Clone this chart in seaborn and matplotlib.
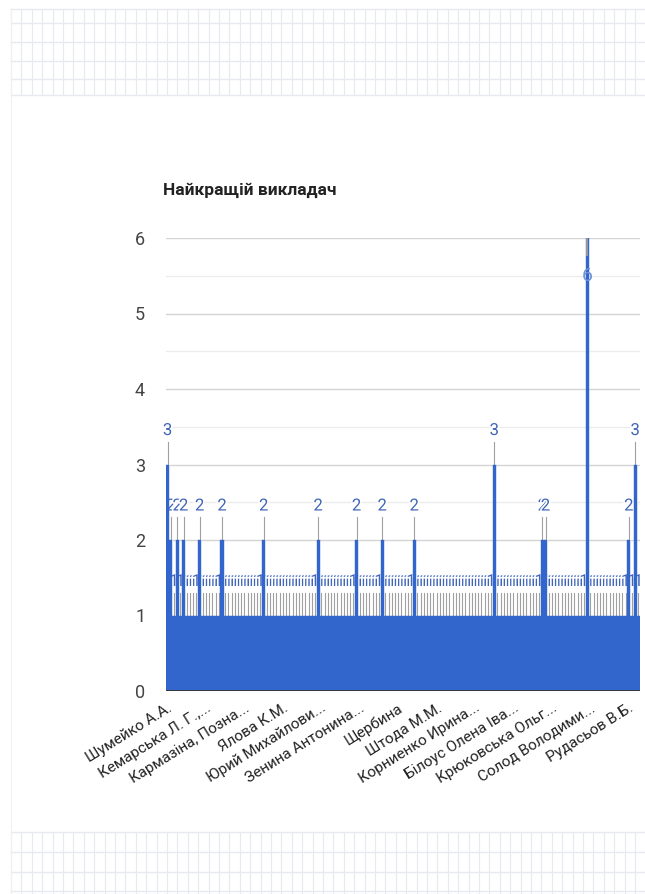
import numpy as np
import pandas as pd
import matplotlib
matplotlib.use("Agg")
import matplotlib.pyplot as plt
import matplotlib.patheffects as pe
from matplotlib.ticker import MultipleLocator
import seaborn as sns

# ---------------- data ----------------
title = "Найкращій викладач"
values = [
    3, 2, 1, 2, 1, 2, 1, 1, 1, 1, 2, 1,
    1, 1, 1, 1, 1, 2, 1, 1, 1, 1, 1, 1,
    1, 1, 1, 1, 1, 1, 2, 1, 1, 1, 1, 1,
    1, 1, 1, 1, 1, 1, 1, 1, 1, 1, 1, 2,
    1, 1, 1, 1, 1, 1, 1, 1, 1, 1, 1, 2,
    1, 1, 1, 1, 1, 1, 1, 2, 1, 1, 1, 1,
    1, 1, 1, 1, 1, 2, 1, 1, 1, 1, 1, 1,
    1, 1, 1, 1, 1, 1, 1, 1, 1, 1, 1, 1,
    1, 1, 1, 1, 1, 1, 3, 1, 1, 1, 1, 1,
    1, 1, 1, 1, 1, 1, 1, 1, 1, 2, 2, 1,
    1, 1, 1, 1, 1, 1, 1, 1, 1, 1, 1, 6,
    1, 1, 1, 1, 1, 1, 1, 1, 1, 1, 1, 1,
    2, 1, 3, 1,
]
categories = list(range(len(values)))
tick_labels = [
    "Шумейко А.А.", "Кемарська Л. Г.,...", "Кармазіна, Позна...",
    "Ялова К.М.", "Юрий Михайлови...", "Зенина Антонина...",
    "Щербина", "Штода М.М.", "Корниенко Ирина...",
    "Білоус Олена Іва...", "Крюковська Ольг...", "Солод Володими...",
    "Рудасьов В.Б.",
]
label_every = 12
y_max = 6

df = pd.DataFrame({"cat": categories, "value": values})

# ---------------- style ----------------
FONT = ["Roboto", "DejaVu Sans"]
plt.rcParams["font.family"] = FONT
BLUE = "#3366cc"

W, H = 645, 894
fig = plt.figure(figsize=(W / 100, H / 100), dpi=100)
fig.patch.set_facecolor("white")

# graph-paper background bands
bg = fig.add_axes([0, 0, 1, 1], zorder=-10)
bg.set_xlim(0, W)
bg.set_ylim(H, 0)
bg.axis("off")
gc = "#e6e9f0"
for xv in np.arange(11, W, 10.4):
    bg.plot([xv, xv], [9, 95], color=gc, lw=0.8)
    bg.plot([xv, xv], [832, H], color=gc, lw=0.8)
for yv in [9, 23, 42, 61, 79, 95]:
    bg.plot([11, W], [yv, yv], color=gc, lw=1.0)
for yv in [832, 852, 872, 891]:
    bg.plot([11, W], [yv, yv], color=gc, lw=1.0)
bg.plot([11, 11], [9, H], color="#eef0f4", lw=0.8)

# main axes
left, right, bottom_px, top_px = 166, 640, 691, 238
ax = fig.add_axes([left / W, 1 - bottom_px / H, (right - left) / W,
                   (bottom_px - top_px) / H])

sns.barplot(data=df, x="cat", y="value", color=BLUE, saturation=1,
            width=1.0, ax=ax, edgecolor=BLUE, linewidth=0.3)

ax.set_xlim(-0.5, len(values) - 0.5)
ax.set_ylim(0, y_max)
ax.set_xlabel("")
ax.set_ylabel("")
for s in ax.spines.values():
    s.set_visible(False)

ax.yaxis.set_major_locator(MultipleLocator(1))
ax.yaxis.set_minor_locator(MultipleLocator(0.5))
ax.set_axisbelow(True)
ax.yaxis.grid(True, which="major", color="#d4d4d4", lw=1.0)
ax.yaxis.grid(True, which="minor", color="#ececec", lw=1.0)
ax.xaxis.grid(False)
ax.tick_params(axis="y", which="both", length=0, labelsize=13,
               labelcolor="#444444", pad=15)
ax.tick_params(axis="x", length=0, pad=7)

tick_pos = categories[::label_every]
ax.set_xticks(tick_pos)
ax.set_xticklabels(tick_labels, rotation=32, ha="right",
                   rotation_mode="anchor", fontsize=11, color="#222222")

ax.axhline(0, color="#333333", lw=1.3, zorder=6)

# bars above lines
for p in ax.patches:
    p.set_zorder(3)

halo = [pe.withStroke(linewidth=2.4, foreground="white")]
for p in ax.patches:
    xc = p.get_x() + p.get_width() / 2
    h = p.get_height()
    if h + 0.55 <= y_max:
        ax.plot([xc, xc], [h, h + 0.3], color="#a0a0a0", lw=0.8,
                zorder=2, path_effects=[pe.Stroke(linewidth=2.2, foreground="white"), pe.Normal()])
        ax.text(xc, h + 0.45, f"{int(h)}", ha="center", va="center",
                fontsize=12, color="#4066b8", zorder=2.5, path_effects=halo)
    else:
        ax.plot([xc, xc], [h, h - 0.22], color="#9a9a9a", lw=1.4, zorder=4)
        ax.text(xc, h - 0.5, f"{int(h)}", ha="center", va="center",
                fontsize=14, color="#6f92da", zorder=4)

fig.text(163 / W, 1 - 190 / H, title, ha="left", va="center",
         fontsize=12.5, fontweight="bold", color="#222222")

fig.savefig("out.png", dpi=100, facecolor="white")
